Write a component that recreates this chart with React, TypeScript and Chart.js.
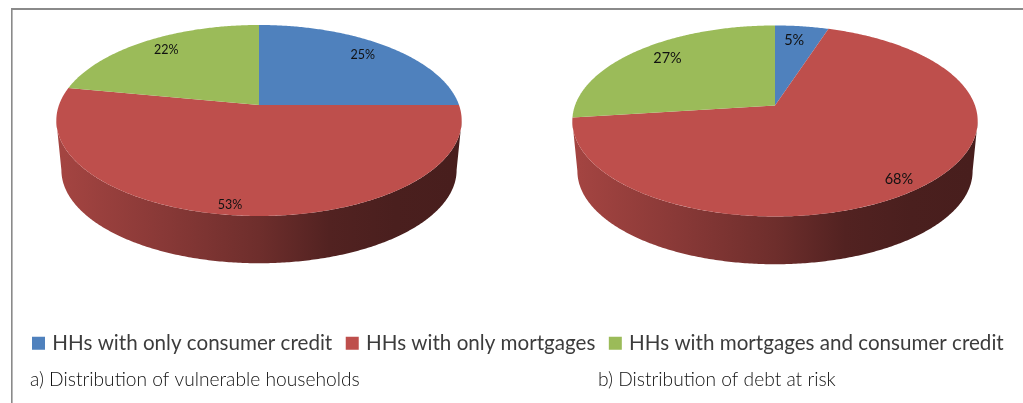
import React, { useEffect, useRef } from "react";
import { Chart, registerables } from "chart.js";

Chart.register(...registerables);

const categories = [
  "HHs with only consumer credit",
  "HHs with only mortgages",
  "HHs with mortgages and consumer credit",
];
const vulnerableHouseholds = [25, 53, 22];
const debtAtRisk = [5, 68, 27];
const sliceColors = ["#4F81BD", "#BE4F4C", "#9BBB59"];
const captions = ["a) Distribution of vulnerable households", "b) Distribution of debt at risk"];

// Perspective layout of the two discs
const PERSPECTIVE = 0.162;
const FACE = { rx: 200, ry: 93 };
const BASE = { rx: 195, ry: 90.7 };
const DISCS = [
  { cx: 259, apex: 105, base: 155, labelSize: 12.5, nudges: [[0, -2], [-9, 1], [0, -3]] },
  { cx: 775, apex: 105.5, base: 156, labelSize: 14.5, nudges: [[-3, 0], [-7, 0], [3, -2]] },
];
const LABEL_RADIUS = [0.8, 0.91, 0.8];
const CAPTION_POS = [[30, 386], [598, 386]];
const WALL_STOPS = [[0, 0.86], [0.25, 0.72], [0.5, 0.58], [0.68, 0.43], [0.85, 0.39], [1, 0.38]];
const FRONT_RIGHT = Math.asin(PERSPECTIVE);
const FRONT_LEFT = Math.PI - FRONT_RIGHT;

function project(d: any, cy: number, g: any, a: number, r = 1) {
  const X = r * Math.cos(a);
  const Y = r * Math.sin(a);
  const w = 1 - PERSPECTIVE * Y;
  return [d.cx + (g.rx * X) / w, cy + (g.ry * Y) / w];
}

function rim(ctx: CanvasRenderingContext2D, d: any, cy: number, g: any, a0: number, a1: number) {
  const steps = Math.max(2, Math.ceil(Math.abs(a1 - a0) / 0.01));
  for (let i = 0; i <= steps; i++) {
    const [x, y] = project(d, cy, g, a0 + ((a1 - a0) * i) / steps);
    ctx.lineTo(x, y);
  }
}

function shade(hex: string, f: number) {
  const n = parseInt(hex.slice(1), 16);
  return `rgb(${((n >> 16) & 255) * f},${((n >> 8) & 255) * f},${(n & 255) * f})`;
}

const discPlugin = {
  id: "discs",
  beforeDraw(chart: any) {
    const ctx = chart.ctx;
    ctx.save();
    ctx.fillStyle = "#ffffff";
    ctx.fillRect(0, 0, chart.width, chart.height);
    ctx.fillStyle = "#8a8a8a";
    ctx.fillRect(11, 8, chart.width - 11, 2);
    ctx.fillRect(11, 8, 1.6, chart.height - 8);
    ctx.restore();
  },
  beforeDatasetsDraw(chart: any) {
    const ctx: CanvasRenderingContext2D = chart.ctx;
    chart.data.datasets.forEach((ds: any, di: number) => {
      const d = DISCS[di];
      const arcs = chart.getDatasetMeta(di).data;
      ctx.save();
      arcs.forEach((arc: any, i: number) => {
        const a0 = Math.max(arc.startAngle, FRONT_RIGHT);
        const a1 = Math.min(arc.endAngle, FRONT_LEFT);
        if (a1 <= a0) return;
        const grad = ctx.createLinearGradient(d.cx - BASE.rx, 0, d.cx + BASE.rx, 0);
        WALL_STOPS.forEach(([t, f]) => grad.addColorStop(t, shade(sliceColors[i], f)));
        ctx.fillStyle = grad;
        ctx.beginPath();
        rim(ctx, d, d.apex, FACE, a0, a1);
        rim(ctx, d, d.base, BASE, a1, a0);
        ctx.closePath();
        ctx.fill();
      });
      arcs.forEach((arc: any, i: number) => {
        ctx.fillStyle = sliceColors[i];
        ctx.beginPath();
        ctx.moveTo(d.cx, d.apex);
        rim(ctx, d, d.apex, FACE, arc.startAngle, arc.endAngle);
        ctx.closePath();
        ctx.fill();
      });
      ctx.fillStyle = "#111111";
      ctx.font = `${d.labelSize}px Lato`;
      ctx.textAlign = "center";
      ctx.textBaseline = "middle";
      arcs.forEach((arc: any, i: number) => {
        const mid = (arc.startAngle + arc.endAngle) / 2;
        const [x, y] = project(d, d.apex, FACE, mid, LABEL_RADIUS[i]);
        ctx.fillText(`${ds.data[i]}%`, x + d.nudges[i][0], y + d.nudges[i][1]);
      });
      ctx.restore();
    });
    return false;
  },
  afterDraw(chart: any) {
    const ctx: CanvasRenderingContext2D = chart.ctx;
    ctx.save();
    ctx.fillStyle = "#111111";
    ctx.font = "300 19.2px Lato";
    ctx.textAlign = "left";
    ctx.textBaseline = "alphabetic";
    captions.forEach((c, i) => ctx.fillText(c, CAPTION_POS[i][0], CAPTION_POS[i][1]));
    ctx.restore();
  },
};

export default function App() {
  const ref = useRef<HTMLCanvasElement>(null);
  useEffect(() => {
    const chart = new Chart(ref.current as HTMLCanvasElement, {
      type: "pie",
      data: {
        labels: categories,
        datasets: [
          { data: vulnerableHouseholds, backgroundColor: sliceColors, borderColor: sliceColors, borderWidth: 6 },
          { data: debtAtRisk, backgroundColor: sliceColors, borderColor: sliceColors, borderWidth: 6 },
        ],
      },
      options: {
        responsive: false,
        animation: false,
        layout: { padding: { left: 18.5, right: -30, top: 0, bottom: 39.5 } },
        plugins: {
          tooltip: { enabled: false },
          legend: {
            display: true,
            position: "bottom",
            align: "start",
            labels: {
              boxWidth: 7,
              boxHeight: 7,
              padding: 16.5,
              color: "#3c3c3c",
              font: { family: "Lato", size: 20.6 },
            },
          },
        },
      },
      plugins: [discPlugin],
    } as any);
    return () => chart.destroy();
  }, []);
  return (
    <div style={{ position: "fixed", left: 0, top: 0, width: 1023, height: 403 }}>
      <canvas ref={ref} width={1023} height={403} style={{ display: "block" }} />
    </div>
  );
}
